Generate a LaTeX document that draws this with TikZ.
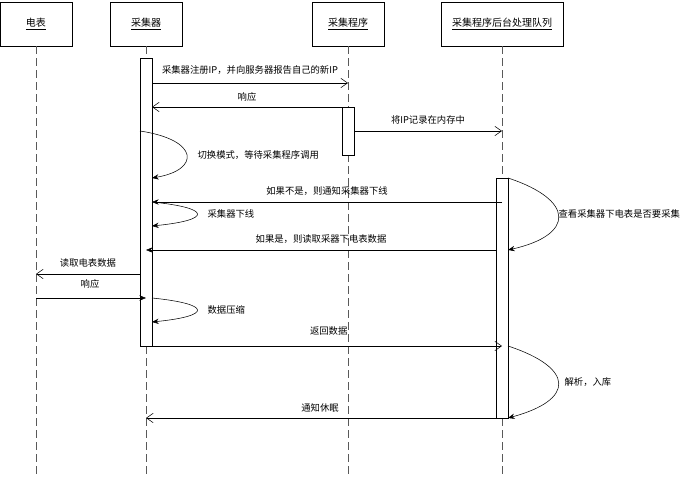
\documentclass[tikz,border=0pt]{standalone}
\usepackage{fontspec}
\setmainfont{Noto Sans CJK SC}
\usetikzlibrary{arrows.meta}
\begin{document}
\begin{tikzpicture}[x=0.75pt,y=-0.75pt,
 hdr/.style={draw,semithick,minimum width=54pt,minimum height=33pt,inner sep=0pt,font=\fontsize{7.5}{9}\selectfont},
 life/.style={dashed,dash pattern=on 6pt off 3pt,gray!70!black},
 act/.style={draw,fill=white},
 msg/.style={-{Stealth[length=5pt,width=4pt]}},
 omsg/.style={-{Straight Barb[length=5pt,width=7pt]}},
 lbl/.style={font=\fontsize{7}{8}\selectfont,inner sep=1pt}]
\path[use as bounding box] (0,0) rectangle (697,477);
\node[hdr] (m) at (36,24) {\underline{电表}};
\node[hdr] (c) at (146,24) {\underline{采集器}};
\node[hdr] (p) at (348,24) {\underline{采集程序}};
\node[hdr,minimum width=91.5pt] (q) at (502,24) {\underline{采集程序后台处理队列}};
\coordinate (me) at (36,477); \coordinate (ce) at (146,477);
\coordinate (pe) at (348,477); \coordinate (qe) at (502,477);
\draw[life] (m.south) -- (me);
\draw[life] (c.south) -- (ce);
\draw[life] (p.south) -- (pe);
\draw[life] (q.south) -- (qe);
\node[act,minimum width=9pt,minimum height=216pt,inner sep=0pt,anchor=north west] (ca) at (140,58) {};
\node[act,minimum width=9pt,minimum height=36pt,inner sep=0pt,anchor=north west] (pa) at (342,107) {};
\node[act,minimum width=9pt,minimum height=180pt,inner sep=0pt,anchor=north west] (qa) at (496,178) {};
\coordinate (a1) at (152,83); \coordinate (b1) at (348,83);
\draw[omsg] (a1) -- (b1) node[lbl,midway,above=5pt] {采集器注册IP，并向服务器报告自己的新IP};
\coordinate (a2) at (342,107); \coordinate (b2) at (152,107);
\draw[omsg] (a2) -- (b2) node[lbl,midway,above=3pt] {响应};
\coordinate (a3) at (354,131); \coordinate (b3) at (502,131);
\draw[omsg] (a3) -- (b3) node[lbl,midway,above=4pt] {将IP记录在内存中};
\coordinate (s1) at (140,131); \coordinate (e1) at (152,178);
\draw[msg] (s1) .. controls (200,140) and (200,170) .. (e1);
\node[lbl,anchor=west] (l1) at (196,155) {切换模式，等待采集程序调用};
\coordinate (a4) at (502,202); \coordinate (b4) at (152,202);
\draw[msg] (a4) -- (b4) node[lbl,midway,above=4pt] {如果不是，则通知采集器下线};
\coordinate (s2) at (152,202); \coordinate (e2) at (152,226);
\draw[msg] (s2) .. controls (212,208) and (212,220) .. (e2);
\node[lbl,anchor=west] (l2) at (206,214) {采集器下线};
\coordinate (s3) at (508,178); \coordinate (e3) at (508,250);
\draw[msg] (s3) .. controls (575,200) and (575,235) .. (e3);
\node[lbl,anchor=west] (l3) at (557,214) {查看采集器下电表是否要采集};
\coordinate (a5) at (496,250); \coordinate (b5) at (146,250);
\draw[msg] (a5) -- (b5) node[lbl,midway,above=4pt] {如果是，则读取采器下电表数据};
\coordinate (a6) at (140,274); \coordinate (b6) at (36,274);
\draw[omsg] (a6) -- (b6) node[lbl,midway,above=4pt] {读取电表数据};
\coordinate (a7) at (36,298); \coordinate (b7) at (146,298);
\draw[msg] (a7) -- (b7);
\node[lbl] (l7) at (90,284) {响应};
\coordinate (s4) at (152,298); \coordinate (e4) at (152,322);
\draw[msg] (s4) .. controls (212,304) and (212,316) .. (e4);
\node[lbl,anchor=west] (l4) at (206,310) {数据压缩};
\coordinate (a8) at (140,346); \coordinate (b8) at (502,346);
\draw[omsg] (a8) -- (b8);
\node[lbl,anchor=east] (l8) at (349,331) {返回数据};
\coordinate (s5) at (508,346); \coordinate (e5) at (508,418);
\draw[msg] (s5) .. controls (575,368) and (575,400) .. (e5);
\node[lbl,anchor=west] (l5) at (563,382) {解析，入库};
\coordinate (a9) at (496,418); \coordinate (b9) at (146,418);
\draw[omsg] (a9) -- (b9);
\node[lbl] (l9) at (320,408) {通知休眠};
\end{tikzpicture}
\end{document}
